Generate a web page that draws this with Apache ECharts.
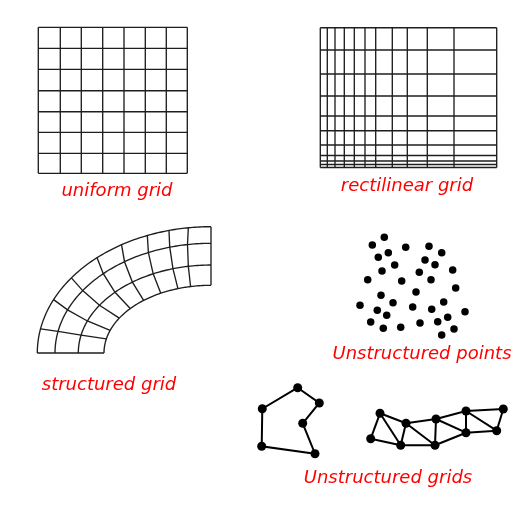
<!DOCTYPE html>
<html>
<head>
<meta charset="utf-8">
<script src="https://cdn.jsdelivr.net/npm/echarts@6/dist/echarts.min.js"></script>
<style>
html,body{margin:0;padding:0;background:#fff;}
#main{width:532px;height:505px;}
</style>
</head>
<body>
<div id="main"></div>
<script>
// ---- data ----
// uniform grid line positions
const uniformX = [38.3, 60.3, 81.3, 102.7, 124, 145.3, 166.3, 187.3];
const uniformY = [27.3, 48.3, 69.3, 90.7, 111.7, 132.3, 153.3, 173.3];
// rectilinear grid line positions
const rectX = [320.3, 327.3, 335, 344.3, 354.3, 365, 375.7, 392.3, 407.3, 427.3, 454, 496.7];
const rectY = [27.7, 50, 74, 96, 116, 130.7, 145, 155.5, 161, 164.5, 167.5];
// structured (curvilinear) grid: ring semi-axes, radial-line angles (outer / inner)
const ringCenter = [211, 353];
const ringA = [173.7, 156, 132.7, 107];
const ringB = [126.3, 109.7, 88, 67.7];
const outerAngles = [0, 11, 25, 36.5, 49, 59, 68.5, 76, 82.5, 90];
const innerAngles = [0, 12, 19.5, 31, 41, 51, 62, 72, 79, 90];
// unstructured points
const scatterPoints = [
  [384.3,237.3],[372.3,245],[405.7,247.3],[429,246.3],[441.7,252.7],[378.3,257.3],
  [388.3,252.7],[425,260],[435,264.7],[394.7,265],[382,271],[419.3,272.3],
  [452.7,270],[367.7,279.7],[401.7,281],[431,279.7],[455.7,288],[416,292],
  [381,295.3],[360,305.3],[393,302.7],[443.7,302],[412.7,307],[377.3,310.3],
  [431.7,309.3],[465,311.7],[386.7,315.3],[447.7,317.3],[370.7,322],[420,323],
  [437.7,321.7],[383.3,328.3],[400.7,327.3],[454,329],[441.7,335]
];
// unstructured grids: polygon + triangulated strip
const polygonNodes = [[297.7,387.7],[319.3,403],[302.7,423.3],[315,453.7],[261.7,446.3],[262.3,408.7]];
const meshNodes = [
  [380,413.3],[370.7,438.7],[400.7,445.3],[406,423.3],[435,445.3],
  [436,419],[466,432.7],[466,411],[496.7,430.7],[503.3,409]
];
const meshEdges = [[0,1],[1,2],[0,2],[0,3],[3,2],[2,4],[3,4],[3,5],[5,4],[5,6],[4,6],[5,7],[7,6],[7,9],[9,8],[6,8],[7,8]];
// labels
const labels = [
  {text:'uniform grid', pos:[117,191]},
  {text:'rectilinear grid', pos:[407,186]},
  {text:'structured grid', pos:[109,385]},
  {text:'Unstructured points', pos:[422,354]},
  {text:'Unstructured grids', pos:[388,478]}
];

// ---- build line geometry ----
function gridLines(xs, ys){
  const out = [];
  xs.forEach(x => out.push({coords:[[x, ys[0]],[x, ys[ys.length-1]]]}));
  ys.forEach(y => out.push({coords:[[xs[0], y],[xs[xs.length-1], y]]}));
  return out;
}
const deg = Math.PI/180;
function ringAngle(j, k){ return outerAngles[j] + (innerAngles[j]-outerAngles[j])*k/(ringA.length-1); }
function ringPt(k, th){ return [ringCenter[0]-ringA[k]*Math.cos(th*deg), ringCenter[1]-ringB[k]*Math.sin(th*deg)]; }
const structLines = [];
for (let k=0;k<ringA.length;k++){
  const pts=[];
  for (let j=0;j<outerAngles.length-1;j++){
    const t0=ringAngle(j,k), t1=ringAngle(j+1,k);
    for (let s=0;s<10;s++) pts.push(ringPt(k, t0+(t1-t0)*s/10));
  }
  pts.push(ringPt(k, ringAngle(outerAngles.length-1,k)));
  structLines.push({coords:pts});
}
for (let j=0;j<outerAngles.length;j++){
  const pts=[];
  for (let k=0;k<ringA.length;k++) pts.push(ringPt(k, ringAngle(j,k)));
  structLines.push({coords:pts});
}
const thinLines = gridLines(uniformX, uniformY).concat(gridLines(rectX, rectY), structLines);
const meshLines = [{coords: polygonNodes.concat([polygonNodes[0]])}]
  .concat(meshEdges.map(e => ({coords:[meshNodes[e[0]], meshNodes[e[1]]]})));

const chart = echarts.init(document.getElementById('main'));
chart.setOption({
  animation:false,
  backgroundColor:'#fff',
  grid:{left:0,right:0,top:0,bottom:0},
  xAxis:{type:'value',min:0,max:532,show:false},
  yAxis:{type:'value',min:0,max:505,inverse:true,show:false},
  series:[
    {type:'lines',coordinateSystem:'cartesian2d',polyline:true,silent:true,
     lineStyle:{color:'#1e1e1e',width:1.35,opacity:1},data:thinLines},
    {type:'lines',coordinateSystem:'cartesian2d',polyline:true,silent:true,
     lineStyle:{color:'#000',width:2,opacity:1},data:meshLines},
    {type:'scatter',symbolSize:7.5,itemStyle:{color:'#000',opacity:1},data:scatterPoints},
    {type:'scatter',symbolSize:9,itemStyle:{color:'#000',opacity:1},data:polygonNodes.concat(meshNodes)}
  ],
  graphic: labels.map(l => ({
    type:'text', x:l.pos[0], y:l.pos[1],
    style:{text:l.text, fill:'#f00', fontSize:18, fontFamily:'DejaVu Sans', fontStyle:'italic',
           align:'center', verticalAlign:'middle'}
  }))
});
</script>
</body>
</html>
